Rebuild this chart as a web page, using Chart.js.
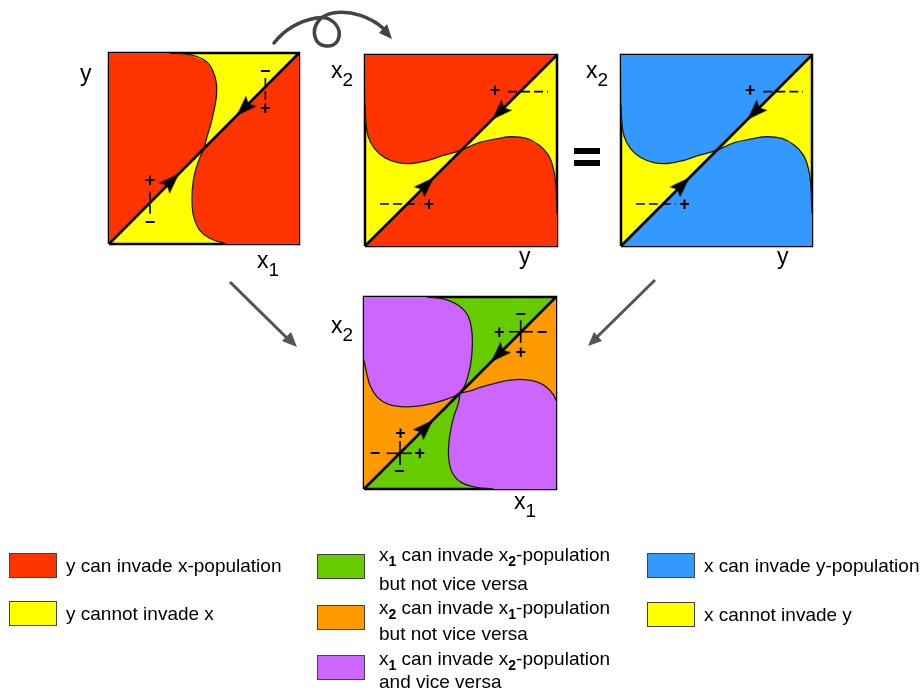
<!DOCTYPE html>
<html>
<head>
<meta charset="utf-8">
<script src="https://cdn.jsdelivr.net/npm/chart.js@4.4.0/dist/chart.umd.min.js"></script>
<style>
body { margin: 0; background: #fff; width: 924px; height: 691px; position: relative; overflow: hidden;
       font-family: "Liberation Sans", Arial, sans-serif; }
canvas.sq { position: absolute; }
.lbl { position: absolute; font-size: 23px; line-height: 23px; white-space: nowrap; color: #000; }
.lbl .s { font-size: 19px; position: relative; top: 8px; }
.sw { position: absolute; width: 46px; height: 23px; border: 1.5px solid #444; }
.lt { position: absolute; font-size: 19px; line-height: 19px; white-space: nowrap; color: #000; }
.lt b { font-size: 14px; position: relative; top: 5px; }
svg { position: absolute; left: 0; top: 0; }
</style>
</head>
<body>
<canvas class="sq" id="sq1" width="196" height="197" style="left:106px;top:50px"></canvas>
<canvas class="sq" id="sq2" width="198" height="197" style="left:362px;top:52px"></canvas>
<canvas class="sq" id="sq3" width="197" height="197" style="left:618px;top:52px"></canvas>
<canvas class="sq" id="sq4" width="198" height="198" style="left:361px;top:294px"></canvas>

<svg width="924" height="691">
  <path d="M274,43 C285,29 300,21 316,18 C332,15 343,28 338,40 C334,49 318,48 315,37 C312,26 320,15 333,13 C351,10 371,17 384,29"
        fill="none" stroke="#444" stroke-width="3.5" stroke-linecap="round"/>
  <polygon points="392,39 379,33 387,24" fill="#444"/>
  <line x1="230" y1="282" x2="289" y2="340" stroke="#555" stroke-width="3"/>
  <polygon points="297,347 282,341 291,332" fill="#555"/>
  <line x1="655" y1="280" x2="595" y2="339" stroke="#555" stroke-width="3"/>
  <polygon points="588,346 602,341 594,332" fill="#555"/>
  <rect x="574" y="148" width="26" height="6" fill="#000"/>
  <rect x="574" y="160" width="26" height="6" fill="#000"/>
</svg>

<div class="lbl" style="left:80px;top:62px">y</div>
<div class="lbl" style="left:257px;top:249px">x<span class="s">1</span></div>
<div class="lbl" style="left:331px;top:59px">x<span class="s">2</span></div>
<div class="lbl" style="left:519px;top:245px">y</div>
<div class="lbl" style="left:586px;top:59px">x<span class="s">2</span></div>
<div class="lbl" style="left:777px;top:245px">y</div>
<div class="lbl" style="left:331px;top:314px">x<span class="s">2</span></div>
<div class="lbl" style="left:514px;top:490px">x<span class="s">1</span></div>

<div class="sw" style="left:9px;top:553px;background:#FF3300"></div>
<div class="lt" style="left:66px;top:556px">y can invade x-population</div>
<div class="sw" style="left:9px;top:601px;background:#FFFF00"></div>
<div class="lt" style="left:66px;top:604px">y cannot invade x</div>

<div class="sw" style="left:317px;top:554px;background:#66CC00"></div>
<div class="lt" style="left:379px;top:545px">x<b>1</b> can invade x<b>2</b>-population</div>
<div class="lt" style="left:379px;top:574px">but not vice versa</div>
<div class="sw" style="left:317px;top:605px;background:#FF9900"></div>
<div class="lt" style="left:379px;top:598px">x<b>2</b> can invade x<b>1</b>-population</div>
<div class="lt" style="left:379px;top:624px">but not vice versa</div>
<div class="sw" style="left:317px;top:655px;background:#CC66FF"></div>
<div class="lt" style="left:379px;top:649px">x<b>1</b> can invade x<b>2</b>-population</div>
<div class="lt" style="left:379px;top:672px">and vice versa</div>

<div class="sw" style="left:647px;top:553px;background:#3399FF"></div>
<div class="lt" style="left:704px;top:556px">x can invade y-population</div>
<div class="sw" style="left:647px;top:602px;background:#FFFF00"></div>
<div class="lt" style="left:704px;top:605px">x cannot invade y</div>

<script>
// ---- data (unit square, 0..1 on both axes) ----
// square 1: x1 (horizontal) vs y (vertical)
var s1UpperX = [0.319, 0.425, 0.512, 0.547, 0.565, 0.565, 0.553, 0.535, 0.516, 0.5]
var s1UpperY = [1.0, 0.991, 0.956, 0.904, 0.843, 0.773, 0.703, 0.624, 0.563, 0.5]
var s1LowerX = [0.5, 0.477, 0.456, 0.442, 0.437, 0.446, 0.477, 0.53, 0.618]
var s1LowerY = [0.5, 0.449, 0.388, 0.318, 0.231, 0.143, 0.073, 0.03, 0.0]

// squares 2 and 3: y (horizontal) vs x2 (vertical)
var s2UpperX = [0, 0.005, 0.017, 0.05, 0.103, 0.172, 0.242, 0.32, 0.407, 0.5]
var s2UpperY = [0.738, 0.642, 0.572, 0.51, 0.463, 0.437, 0.432, 0.446, 0.474, 0.5]
var s2LowerX = [0.5, 0.598, 0.685, 0.763, 0.842, 0.908, 0.955, 0.981, 0.993, 0.998, 1.0]
var s2LowerY = [0.5, 0.542, 0.561, 0.572, 0.563, 0.528, 0.476, 0.406, 0.327, 0.222, 0.17]

// square 4: x1 (horizontal) vs x2 (vertical)
var s4ArcUX = [0.326, 0.413, 0.491, 0.54, 0.561, 0.564, 0.556, 0.538, 0.517, 0.5]
var s4ArcUY = [1.0, 0.99, 0.957, 0.905, 0.827, 0.74, 0.653, 0.575, 0.523, 0.5]
var s4ArcLX = [0.5, 0.456, 0.378, 0.291, 0.204, 0.125, 0.068, 0.033, 0.016, 0.006, 0]
var s4ArcLY = [0.5, 0.477, 0.451, 0.433, 0.428, 0.442, 0.48, 0.536, 0.593, 0.64, 0.67]
var s4ArcDX = [0.5, 0.491, 0.47, 0.453, 0.442, 0.442, 0.462, 0.509, 0.587, 0.674]
var s4ArcDY = [0.5, 0.445, 0.385, 0.315, 0.237, 0.151, 0.081, 0.033, 0.009, 0]
var s4ArcRX = [1, 0.988, 0.953, 0.901, 0.831, 0.761, 0.692, 0.613, 0.552, 0.5]
var s4ArcRY = [0.46, 0.489, 0.529, 0.558, 0.57, 0.567, 0.553, 0.532, 0.511, 0.5]

// arrowheads on the diagonal [x, y, direction]
var s1Arrows = [[0.33, 0.33, 'up'], [0.71, 0.71, 'down']]
var s2Arrows = [[0.32, 0.32, 'up'], [0.70, 0.70, 'down']]
var s4Arrows = [[0.32, 0.32, 'up'], [0.70, 0.70, 'down']]

// sign bars [x0, y0, x1, y1]
var s1Bars = [[0.216, 0.274, 0.216, 0.155], [0.823, 0.869, 0.823, 0.745]]
var s2Bars = [[0.078, 0.22, 0.286, 0.22], [0.745, 0.808, 0.953, 0.808]]
var s4Bars = [[0.118, 0.186, 0.25, 0.186], [0.1875, 0.125, 0.1875, 0.25],
              [0.755, 0.819, 0.88, 0.819], [0.816, 0.761, 0.816, 0.878]]

// signs [x, y, text]
var s1Signs = [[0.216, 0.335, '+'], [0.216, 0.115, '−'], [0.823, 0.906, '−'], [0.823, 0.71, '+']]
var s2Signs = [[0.333, 0.22, '+'], [0.677, 0.815, '+']]
var s4Signs = [[0.19, 0.29, '+'], [0.183, 0.095, '−'], [0.057, 0.186, '−'], [0.29, 0.186, '+'],
               [0.816, 0.911, '−'], [0.816, 0.713, '+'], [0.705, 0.819, '+'], [0.927, 0.819, '−']]

var RED = '#FF3300', YELLOW = '#FFFF00', BLUE = '#3399FF'
var GREEN = '#66CC00', ORANGE = '#FF9900', PURPLE = '#CC66FF'

function pts(xs, ys) {
      var out = []
      for (var i = 0; i < xs.length; i++) out.push({x: xs[i], y: ys[i]})
      return out
}
function P(x, y) { return {x: x, y: y} }

// arrowhead picture pointing up, rotated by chart.js
function arrowHead() {
      var c = document.createElement('canvas')
      c.width = 15; c.height = 21
      var g = c.getContext('2d')
      g.fillStyle = '#000'
      g.beginPath()
      g.moveTo(7.5, 0); g.lineTo(15, 21); g.lineTo(7.5, 17); g.lineTo(0, 21)
      g.closePath(); g.fill()
      return c
}
var HEAD = arrowHead()

function region(data, color, order) {
      return {data: data, showLine: true, fill: 'shape', backgroundColor: color,
              borderWidth: 0, pointRadius: 0, tension: 0, order: order, clip: false}
}
function curve(data) {
      return {data: data, showLine: true, fill: false, borderColor: '#1a1a1a',
              borderWidth: 1.3, pointRadius: 0, tension: 0.4, order: 4}
}

function makeSquare(id, bgColor, regions, curves, arrows, bars, dash, signs) {
      var ds = []
      ds.push({data: [P(0, 0), P(1, 0), P(1, 1), P(0, 1), P(0, 0)], showLine: true, fill: 'shape',
               backgroundColor: bgColor, borderColor: '#000', borderWidth: 2.5, pointRadius: 0,
               tension: 0, order: 10, clip: false})
      regions.forEach(function (r) { ds.push(region(r[0], r[1], r[2])) })
      curves.forEach(function (c) { ds.push(curve(c)) })
      ds.push({data: [P(0, 0), P(1, 1)], showLine: true, borderColor: '#000', borderWidth: 2.6,
               pointRadius: 0, order: 3, clip: false})
      bars.forEach(function (b) {
            ds.push({data: [P(b[0], b[1]), P(b[2], b[3])], showLine: true, borderColor: '#000',
                     borderWidth: 1.6, borderDash: dash, pointRadius: 0, order: 2})
      })
      ds.push({data: arrows.map(function (a) { return P(a[0], a[1]) }), showLine: false,
               pointStyle: HEAD, pointRadius: 10,
               rotation: arrows.map(function (a) { return a[2] == 'up' ? 45 : 225 }), order: 1})

      var signPlugin = {
            id: 'signs',
            afterDatasetsDraw: function (chart) {
                  var ctx = chart.ctx, xs = chart.scales.x, ys = chart.scales.y
                  ctx.save()
                  ctx.fillStyle = '#000'
                  ctx.font = 'bold 18px "Liberation Sans"'
                  ctx.textAlign = 'center'
                  ctx.textBaseline = 'middle'
                  signs.forEach(function (s) {
                        ctx.fillText(s[2], xs.getPixelForValue(s[0]), ys.getPixelForValue(s[1]) + 1)
                  })
                  ctx.restore()
            }
      }

      return new Chart(document.getElementById(id), {
            type: 'scatter',
            data: {datasets: ds},
            options: {
                  animation: false,
                  responsive: false,
                  events: [],
                  layout: {padding: 3, autoPadding: false},
                  plugins: {legend: {display: false}, tooltip: {enabled: false}},
                  scales: {
                        x: {type: 'linear', min: 0, max: 1, display: false},
                        y: {type: 'linear', min: 0, max: 1, display: false}
                  }
            },
            plugins: [signPlugin]
      })
}

// square 1
makeSquare('sq1', YELLOW,
      [[[P(0, 0), P(0, 1)].concat(pts(s1UpperX, s1UpperY)), RED, 8],
       [pts(s1LowerX, s1LowerY).concat([P(1, 0), P(1, 1)]), RED, 8]],
      [pts(s1UpperX, s1UpperY), pts(s1LowerX, s1LowerY)],
      s1Arrows, s1Bars, [9, 4], s1Signs)

// squares 2 and 3
function sq23(id, color) {
      makeSquare(id, YELLOW,
            [[[P(0, 1)].concat(pts(s2UpperX, s2UpperY)).concat([P(1, 1)]), color, 8],
             [[P(0, 0)].concat(pts(s2LowerX, s2LowerY)).concat([P(1, 0)]), color, 8]],
            [pts(s2UpperX, s2UpperY), pts(s2LowerX, s2LowerY)],
            s2Arrows, s2Bars, [9, 4], s2Signs)
}
sq23('sq2', RED)
sq23('sq3', BLUE)

// square 4
var arcLrev = pts(s4ArcLX, s4ArcLY).reverse()
makeSquare('sq4', GREEN,
      [[[P(0.5, 0.5), P(1, 1)].concat(pts(s4ArcRX, s4ArcRY)), ORANGE, 8],
       [[P(0, 0)].concat(arcLrev), ORANGE, 8],
       [[P(0, 1)].concat(pts(s4ArcUX, s4ArcUY)).concat(pts(s4ArcLX, s4ArcLY)), PURPLE, 7],
       [pts(s4ArcDX, s4ArcDY).concat([P(1, 0)]).concat(pts(s4ArcRX, s4ArcRY)), PURPLE, 7]],
      [pts(s4ArcUX, s4ArcUY), pts(s4ArcLX, s4ArcLY), pts(s4ArcDX, s4ArcDY), pts(s4ArcRX, s4ArcRY)],
      s4Arrows, s4Bars, [], s4Signs)
</script>
</body>
</html>
